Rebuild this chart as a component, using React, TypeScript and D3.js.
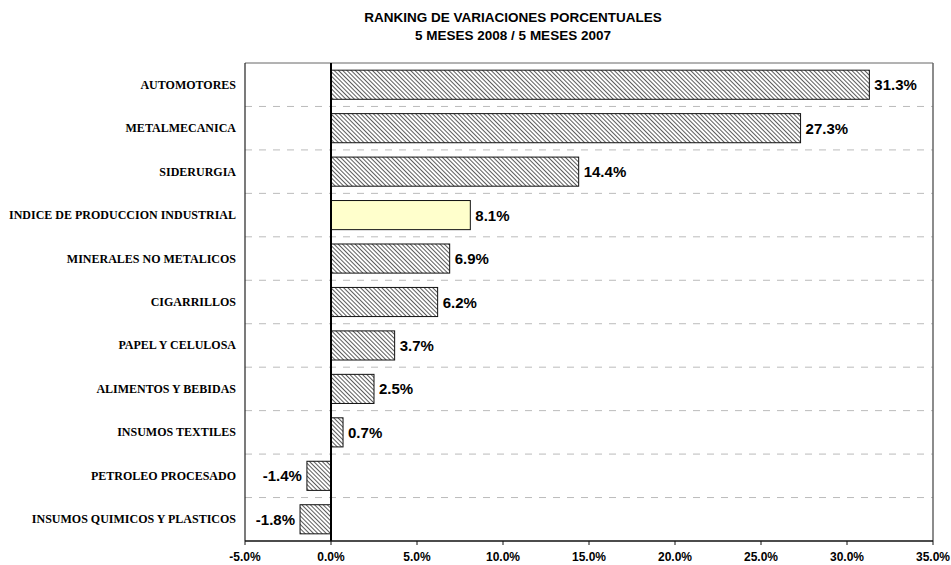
import React from 'react';
import * as d3 from 'd3';

const categories = [
  'AUTOMOTORES',
  'METALMECANICA',
  'SIDERURGIA',
  'INDICE DE PRODUCCION INDUSTRIAL',
  'MINERALES NO METALICOS',
  'CIGARRILLOS',
  'PAPEL Y CELULOSA',
  'ALIMENTOS Y BEBIDAS',
  'INSUMOS TEXTILES',
  'PETROLEO PROCESADO',
  'INSUMOS QUIMICOS Y PLASTICOS',
];
const values = [31.3, 27.3, 14.4, 8.1, 6.9, 6.2, 3.7, 2.5, 0.7, -1.4, -1.8];
const highlight = 'INDICE DE PRODUCCION INDUSTRIAL';
const xTicks = [-5, 0, 5, 10, 15, 20, 25, 30, 35];

const W = 951;
const H = 565;
const left = 245;
const right = 933;
const top = 63;
const bottom = 541;

export default function App() {
  const x = d3.scaleLinear().domain([-5, 35]).range([left, right]);
  const y = d3.scaleBand<string>().domain(categories).range([top, bottom]).paddingInner(0.33).paddingOuter(0.165);
  const band = (bottom - top) / categories.length;
  const arial = "Arial, 'Liberation Sans', sans-serif";

  return (
    <svg width={W} height={H} style={{ position: 'absolute', left: 0, top: 0, background: '#fff' }}>
      <defs>
        <pattern id="hatch" width="3" height="3" patternUnits="userSpaceOnUse" patternTransform="rotate(-45)">
          <rect width="3" height="3" fill="#fff" />
          <line x1="0" y1="0" x2="0" y2="3" stroke="#333" strokeWidth="1.6" />
        </pattern>
      </defs>
      <text x={513} y={22} textAnchor="middle" fontFamily={arial} fontWeight="bold" fontSize={13.5}>
        RANKING DE VARIACIONES PORCENTUALES
      </text>
      <text x={513} y={40} textAnchor="middle" fontFamily={arial} fontWeight="bold" fontSize={13.5}>
        5 MESES 2008 / 5 MESES 2007
      </text>

      {/* dashed separators */}
      {categories.slice(1).map((c, i) => (
        <line key={c} x1={left} x2={right} y1={top + band * (i + 1)} y2={top + band * (i + 1)}
          stroke="#bbb" strokeDasharray="7,7" strokeWidth={1} />
      ))}

      {/* plot border */}
      <line x1={left} x2={right} y1={top} y2={top} stroke="#666" strokeWidth={1} />
      <line x1={right} x2={right} y1={top} y2={bottom} stroke="#666" strokeWidth={1.5} />
      <line x1={left} x2={left} y1={top} y2={bottom} stroke="#222" strokeWidth={1.2} />

      {categories.map((c, i) => {
        const v = values[i];
        const x0 = x(Math.min(0, v));
        const w = Math.abs(x(v) - x(0));
        const yy = y(c)!;
        const cy = yy + y.bandwidth() / 2;
        return (
          <g key={c}>
            <rect x={x0} y={yy} width={w} height={y.bandwidth()}
              fill={c === highlight ? '#ffffcc' : 'url(#hatch)'} stroke="#111" strokeWidth={1} />
            <text x={v >= 0 ? x(v) + 5 : x(v) - 5} y={cy + 5.5} textAnchor={v >= 0 ? 'start' : 'end'}
              fontFamily={arial} fontWeight="bold" fontSize={15}>
              {v.toFixed(1)}%
            </text>
            <text x={236} y={cy + 4} textAnchor="end" fontFamily="'Times New Roman', 'Liberation Serif', serif"
              fontWeight="bold" fontSize={12}>
              {c}
            </text>
          </g>
        );
      })}

      {/* zero line */}
      <line x1={x(0)} x2={x(0)} y1={top} y2={bottom} stroke="#000" strokeWidth={2} />

      {/* x axis */}
      <line x1={left} x2={right} y1={bottom} y2={bottom} stroke="#111" strokeWidth={1.5} />
      {xTicks.map(t => (
        <g key={t}>
          <line x1={x(t)} x2={x(t)} y1={bottom} y2={bottom + 4} stroke="#111" strokeWidth={1} />
          <text x={x(t)} y={561} textAnchor="middle" fontFamily={arial} fontWeight="bold" fontSize={12}>
            {t.toFixed(1)}%
          </text>
        </g>
      ))}
    </svg>
  );
}
